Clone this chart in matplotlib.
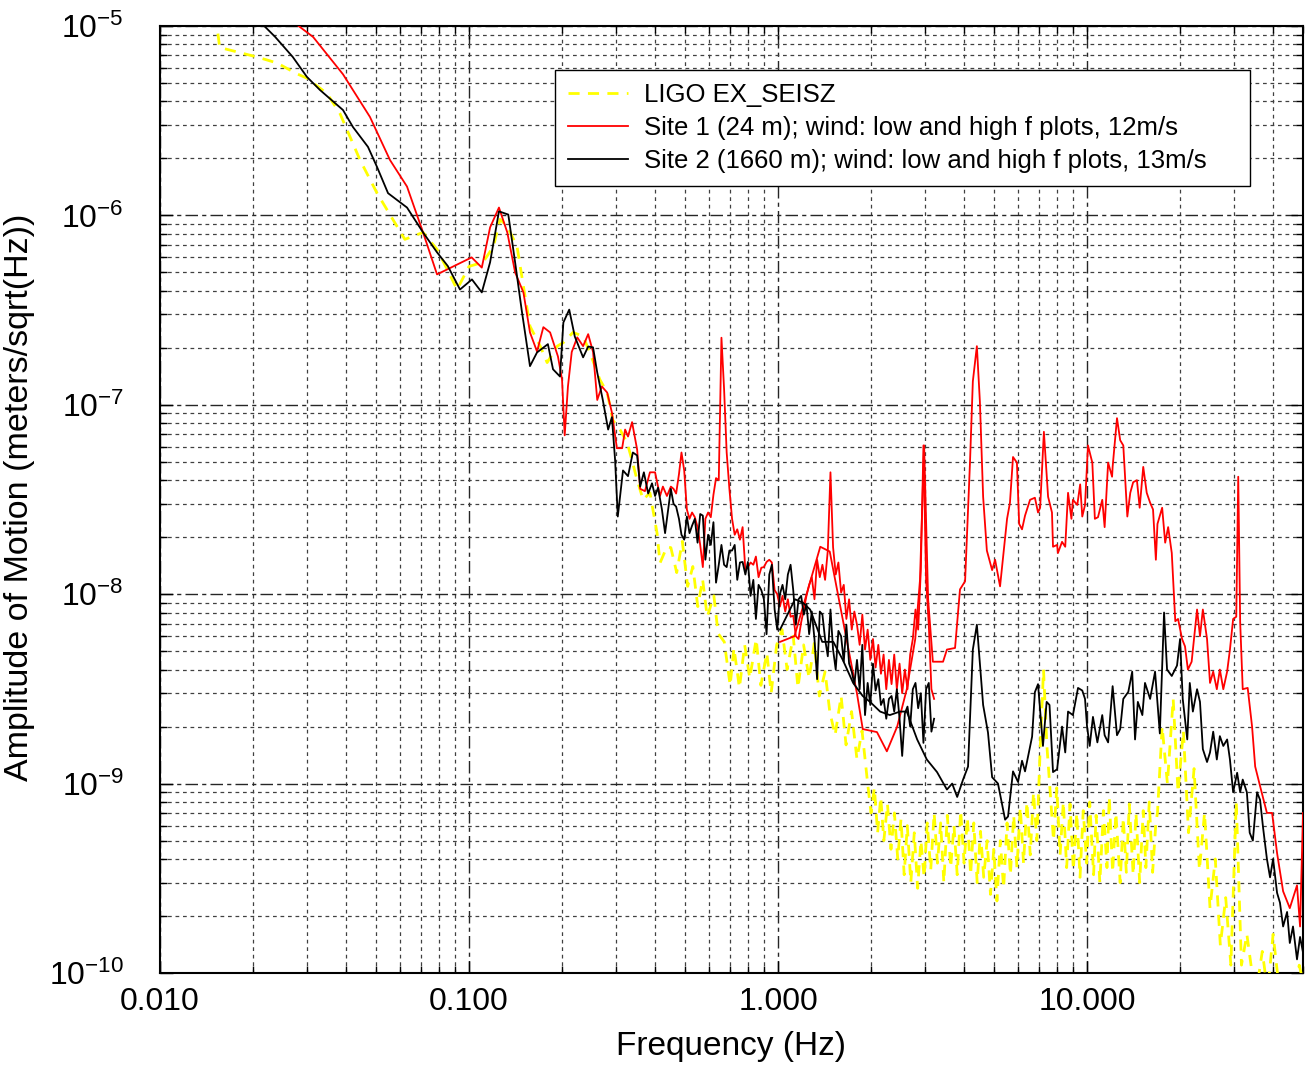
import matplotlib
matplotlib.use("Agg")
import matplotlib.pyplot as plt
from matplotlib.ticker import FixedLocator, FixedFormatter, LogLocator, NullFormatter

plt.rcParams["font.family"] = ["Liberation Sans", "DejaVu Sans"]
plt.rcParams["mathtext.fontset"] = "custom"
plt.rcParams["mathtext.rm"] = "Liberation Sans"
plt.rcParams["mathtext.it"] = "Liberation Sans:italic"
plt.rcParams["mathtext.bf"] = "Liberation Sans:bold"

NM = 1e-9  # all amplitudes below are in nm/sqrt(Hz)

# shared frequency grids (Hz) for the noisy parts of the spectra
f_coarse = [0.45, 0.47, 0.49, 0.51, 0.53, 0.55, 0.57, 0.59, 0.62, 0.64,
            0.67, 0.70, 0.72, 0.75, 0.78, 0.81, 0.85, 0.88, 0.92, 0.95,
            0.99, 1.03, 1.07, 1.12, 1.16, 1.21, 1.26, 1.31, 1.36, 1.42,
            1.47, 1.53, 1.60, 1.66, 1.73, 1.80, 1.87, 1.95, 2.02, 2.10,
            2.19, 2.28, 2.37, 2.46, 2.56, 2.66, 2.77, 2.88, 3.00, 3.12,
            3.24, 3.37, 3.51, 3.65, 3.79, 3.95, 4.10, 4.27, 4.44, 4.62,
            4.80, 4.99, 5.19, 5.40, 5.62, 5.84, 6.08, 6.32, 6.57, 6.83,
            7.11, 7.39, 7.69, 8.00, 8.32, 8.65, 9.00, 9.36, 9.73, 10.1,
            10.5, 11.0, 11.4, 11.8, 12.3, 12.8, 13.3, 13.9, 14.4, 15.0,
            15.6, 16.2, 16.9, 17.5, 18.2, 19.0, 19.7, 20.5, 21.3, 22.2,
            23.1, 24.0, 25.0, 26.0, 27.0, 28.1, 29.2, 30.4, 31.6, 32.9,
            34.2, 35.5, 36.9, 38.4, 40.0, 41.6, 43.2, 45.0, 46.8, 48.6,
            50.0]

f_fine = [0.450, 0.459, 0.468, 0.478, 0.487, 0.497, 0.507, 0.517, 0.527, 0.538,
          0.549, 0.560, 0.571, 0.582, 0.594, 0.606, 0.618, 0.630, 0.643, 0.656,
          0.669, 0.682, 0.696, 0.710, 0.724, 0.738, 0.753, 0.768, 0.784, 0.799,
          0.815, 0.832, 0.848, 0.865, 0.883, 0.900, 0.918, 0.937, 0.955, 0.975,
          0.994, 1.014, 1.034, 1.055, 1.076, 1.098, 1.120, 1.142, 1.165, 1.188,
          1.212, 1.236, 1.261, 1.286, 1.312, 1.338, 1.365, 1.392, 1.420, 1.449,
          1.478, 1.507, 1.537, 1.568, 1.600, 1.632, 1.664, 1.698, 1.732, 1.766,
          1.801, 1.837, 1.874, 1.912, 1.950, 1.989, 2.029, 2.069, 2.111, 2.153,
          2.196, 2.240, 2.285, 2.330, 2.377, 2.424, 2.473, 2.522, 2.573, 2.624,
          2.677, 2.730, 2.785, 2.841, 2.898, 2.955, 3.014, 3.075, 3.136, 3.199]

# LIGO EX_SEISZ
ligo_f_low = [0.0150, 0.0153, 0.0156, 0.0206, 0.0239, 0.0277, 0.0299, 0.0347, 0.0382, 0.0412,
              0.0444, 0.0504, 0.0567, 0.062, 0.071, 0.0788, 0.085, 0.0915, 0.100, 0.111,
              0.120, 0.126, 0.133, 0.143, 0.150, 0.1575, 0.170, 0.179, 0.193, 0.202,
              0.217, 0.234, 0.246, 0.265, 0.280, 0.292, 0.308, 0.325, 0.339, 0.350,
              0.366, 0.385, 0.406, 0.415, 0.437]
ligo_a_low = [11500, 9900, 7700, 6860, 6380, 5600, 5300, 4400, 3460, 2600,
              1960, 1310, 953, 747, 813, 661, 519, 406, 538, 565,
              686, 953, 875, 686, 422, 260, 204, 167, 204, 213,
              241, 230, 189, 136, 116, 83, 74, 63, 49, 40,
              31.5, 34.3, 21, 14.6, 17.8]
# 0.45 - 1.87 Hz on f_coarse[:37]
ligo_a_mid1 = [17.6, 13, 19, 11, 14, 8.6, 12, 7.6, 9.8, 6.2,
               5.6, 3.3, 5.2, 3.2, 5.4, 3.6, 5.8, 3.3, 4.9, 3.0,
               5.4, 6.5, 4.0, 6.0, 3.2, 5.4, 3.6, 5.5, 2.9, 3.9,
               2.4, 1.8, 2.9, 1.6, 2.4, 1.35, 1.9]
ligo_f_mid2 = [1.95, 2.00, 2.05, 2.10, 2.15, 2.20, 2.26, 2.32, 2.38, 2.44,
               2.50, 2.56, 2.62, 2.69, 2.76, 2.83, 2.90, 2.97, 3.04, 3.12,
               3.20, 3.28, 3.36, 3.44, 3.53, 3.62, 3.71, 3.80, 3.90, 4.00,
               4.10, 4.20, 4.30, 4.41, 4.52, 4.63, 4.75, 4.87, 4.99, 5.11,
               5.24, 5.37, 5.51, 5.65, 5.79, 5.93, 6.08, 6.23, 6.39, 6.55,
               6.71, 6.88, 7.05, 7.23, 7.41, 7.60, 7.79, 7.98, 8.18, 8.38,
               8.59, 8.81, 9.03, 9.26, 9.49, 9.72, 9.97, 10.2, 10.5, 10.7,
               11.0, 11.3, 11.6, 11.8, 12.1, 12.4, 12.8, 13.1, 13.4, 13.7,
               14.1, 14.4, 14.8, 15.2, 15.5, 15.9, 16.3, 16.7]
ligo_a_mid2 = [1.0, 0.7, 0.95, 0.55, 0.85, 0.5, 0.78, 0.45, 0.7, 0.4,
               0.65, 0.33, 0.6, 0.3, 0.55, 0.28, 0.5, 0.32, 0.62, 0.35,
               0.7, 0.38, 0.62, 0.3, 0.68, 0.36, 0.6, 0.33, 0.72, 0.38,
               0.66, 0.33, 0.62, 0.3, 0.56, 0.32, 0.5, 0.26, 0.45, 0.24,
               0.5, 0.28, 0.62, 0.33, 0.68, 0.36, 0.75, 0.38, 0.8, 0.42,
               0.9, 0.5, 1.5, 4.0, 1.6, 0.9, 0.5, 0.95, 0.42, 0.8,
               0.36, 0.78, 0.35, 0.7, 0.32, 0.72, 0.38, 0.8, 0.33, 0.68,
               0.3, 0.72, 0.36, 0.85, 0.34, 0.7, 0.3, 0.66, 0.34, 0.78,
               0.33, 0.7, 0.3, 0.72, 0.36, 0.8, 0.34, 0.62]
# 16.9 - 50 Hz on f_coarse[92:]
ligo_a_high = [0.7, 2.0, 1.0, 2.8, 0.9, 1.9, 0.55, 1.2,
               0.35, 0.7, 0.22, 0.4, 0.14, 0.25, 0.11, 0.8, 0.11, 0.16,
               0.1, 0.085, 0.13, 0.08, 0.16, 0.09, 0.075, 0.097, 0.08, 0.11,
               0.09]

# Site 1 (24 m), low f plot
site1_lo_f_sparse = [0.026, 0.0313, 0.0391, 0.0478, 0.0555, 0.063, 0.071, 0.0788, 0.102, 0.110,
                     0.117, 0.125, 0.133, 0.141, 0.150, 0.1575, 0.166, 0.174, 0.183, 0.194,
                     0.200, 0.204, 0.209, 0.215, 0.224, 0.234, 0.243, 0.252, 0.260, 0.269,
                     0.280, 0.290, 0.301, 0.313, 0.320, 0.327, 0.337, 0.350, 0.358, 0.371,
                     0.385, 0.400, 0.415, 0.424, 0.437]
site1_lo_a_sparse = [11000, 8750, 5560, 3310, 1960, 1420, 813, 488, 600, 530,
                     864, 1100, 813, 500, 392, 241, 191, 257, 241, 180,
                     136, 69, 125, 190, 227, 204, 236, 190, 106, 125,
                     116, 91, 59, 59, 74, 68, 81, 58, 36, 35,
                     44, 44, 33, 37, 33]
site1_lo_a_fine = [37, 36, 34, 43, 56, 45, 28, 25, 27, 25.5,
                   22.6, 18.2, 13.9, 25, 27, 25.5, 33.5, 41, 40, 226,
                   121, 56, 36, 25, 20.6, 22, 19.4, 22.6, 13.4, 13.9,
                   14.7, 14.3, 15.8, 12.3, 13.8, 13.9, 14.8, 15.2, 14.7, 10.5,
                   10, 8.6, 9.8, 8.1, 9.4, 7.6, 7.7, 6.0, 5.8, 7.1,
                   8.3, 9.8, 11.2, 12.3, 9.4, 15.2, 12.3, 14.3, 11.9, 17,
                   44, 17.7, 12.7, 14.7, 10.2, 11.2, 7.4, 9.4, 6.5, 8.1,
                   6.9, 5.4, 7.8, 5.1, 6.5, 4.5, 5.8, 4.1, 5.4, 3.8,
                   4.8, 3.15, 4.5, 3.35, 4.8, 3.15, 4.3, 3.0, 4.0, 3.15,
                   4.8, 5.8, 8.3, 6.5, 13.4, 61, 11.9, 6.9, 3.15, 2.8]

# Site 1 (24 m), high f plot
site1_hi_f = [1.015, 1.13, 1.37, 1.47, 1.80, 1.88, 2.09, 2.25, 2.43, 2.61,
              2.78, 2.88, 2.97, 3.06, 3.17, 3.42, 3.52, 3.74, 3.88, 4.03,
              4.18, 4.27, 4.40, 4.50, 4.61, 4.74, 4.93, 5.04, 5.23, 5.51,
              5.63, 5.76, 5.93, 6.03, 6.16, 6.30, 6.54, 6.78, 6.94, 7.05,
              7.25, 7.48, 7.70, 7.76, 8.00, 8.05, 8.30, 8.50, 8.68, 8.90,
              9.00, 9.30, 9.50, 9.65, 9.85, 10.07, 10.4, 10.6, 10.85, 11.2,
              11.4, 11.7, 12.05, 12.1, 12.5, 12.8, 13.1, 13.5, 13.8, 14.1,
              14.5, 14.8, 15.2, 15.6, 16.0, 16.35, 16.7, 16.9, 17.5, 17.9,
              18.3, 18.8, 19.3, 19.7, 20.3, 20.75, 21.2, 21.8, 22.7, 23.2,
              23.7, 24.45, 25.0, 25.6, 26.3, 26.9, 27.6, 28.4, 29.0, 29.7,
              30.4, 30.85, 31.3, 31.9, 33.1, 34.2, 35.0, 36.3, 38.2, 39.7,
              41.2, 43.1, 45.3, 47.8, 48.9, 50.0]
site1_hi_a = [5.6, 6.0, 17.8, 16.8, 3.0, 1.94, 1.87, 1.48, 2.0, 3.15,
              5.8, 11.9, 61, 9.4, 4.4, 4.4, 5.1, 5.2, 10.6, 11.7,
              49.5, 133, 204, 104, 32.7, 17, 13.4, 15.2, 11, 25,
              30.4, 53, 49.5, 23.5, 22, 26, 31.5, 32.3, 27, 28.6,
              72, 32.7, 27, 17.8, 18.2, 16.5, 18.9, 17.8, 34.3, 25,
              31.5, 29.6, 38, 25.7, 29.6, 61, 49.5, 25, 25.5, 31.5,
              22.6, 49.5, 41.7, 47, 85, 65, 61, 25.7, 34.3, 39,
              40, 28.6, 47, 34.3, 30.4, 28, 15.2, 23.5, 28.6, 18.7,
              22.6, 16.5, 7.2, 7.4, 5.8, 5.3, 4.0, 4.4, 8.3, 6.0,
              8.3, 5.8, 3.4, 3.9, 3.15, 4.0, 3.15, 3.9, 5.1, 7.4,
              7.6, 41.7, 7.1, 3.15, 3.2, 2.0, 1.23, 0.97, 0.70, 0.70,
              0.43, 0.27, 0.22, 0.29, 0.176, 0.70]

# Site 2 (1660 m), low f plot
site2_lo_f_sparse = [0.0208, 0.0236, 0.0269, 0.0299, 0.0329, 0.0391, 0.0421, 0.0471, 0.0504, 0.0547,
                     0.0630, 0.0710, 0.0788, 0.0854, 0.0935, 0.1022, 0.110, 0.117, 0.125, 0.134,
                     0.141, 0.148, 0.1575, 0.166, 0.180, 0.187, 0.197, 0.202, 0.211, 0.220,
                     0.234, 0.243, 0.252, 0.260, 0.271, 0.282, 0.290, 0.297, 0.303, 0.315,
                     0.327, 0.339, 0.350, 0.358, 0.368, 0.380, 0.391, 0.400, 0.409, 0.421,
                     0.431]
site2_lo_a_sparse = [10750, 8750, 6860, 5380, 4600, 3600, 2930, 2300, 1800, 1310,
                     1100, 813, 638, 540, 406, 459, 392, 565, 1050, 1010,
                     565, 318, 160, 189, 209, 154, 141, 272, 318, 229,
                     178, 203, 201, 148, 106, 74, 86, 51, 25.7, 45,
                     42, 56, 54, 37, 44, 34, 38.5, 33, 36.5, 28,
                     21]
site2_lo_a_fine = [36, 30, 29, 25, 20.6, 19.4, 25.7, 21, 23, 25,
                   18.7, 26.5, 26, 15.2, 20.6, 18.2, 24, 11.5, 14.3, 18.2,
                   14.3, 13.9, 17, 17, 18.2, 11.9, 14.7, 14.8, 12.7, 14.8,
                   9.8, 11.9, 7.4, 11.2, 10.5, 9.4, 6.15, 12.7, 14.3, 8.3,
                   6.5, 10, 11.2, 9.4, 12.7, 14.3, 10.5, 6.9, 9.4, 9.8,
                   7.8, 8.85, 6.15, 8.1, 5.8, 3.56, 8.1, 7.8, 5.8, 4.7,
                   8.3, 5.1, 4.0, 6.4, 6.0, 4.4, 6.9, 4.3, 3.9, 3.35,
                   4.5, 3.15, 5.4, 2.3, 3.4, 2.6, 4.3, 3.1, 3.56, 2.6,
                   2.8, 2.2, 2.8, 2.9, 2.4, 3.15, 2.2, 1.4, 2.35, 2.55,
                   2.0, 3.15, 3.4, 2.5, 3.0, 1.64, 3.15, 3.4, 1.88, 2.2]

# Site 2 (1660 m), high f plot
site2_hi_f = [1.015, 1.135, 1.205, 1.27, 1.39, 1.51, 1.62, 1.75, 1.88, 1.985,
              2.14, 2.30, 2.48, 2.61, 2.82, 3.03, 3.27, 3.52, 3.66, 3.80,
              3.97, 4.12, 4.27, 4.40, 4.61, 4.78, 4.93, 5.15, 5.43, 5.55,
              5.76, 5.98, 6.16, 6.30, 6.64, 6.78, 6.94, 7.20, 7.40, 7.56,
              7.76, 8.0, 8.3, 8.5, 8.68, 9.0, 9.35, 9.65, 9.85, 10.0,
              10.2, 10.45, 10.8, 11.2, 11.4, 11.7, 12.1, 12.5, 12.8, 13.1,
              13.6, 14.0, 14.3, 14.6, 15.1, 15.4, 16.0, 16.6, 17.2, 17.75,
              18.15, 18.8, 19.55, 20.0, 20.4, 21.1, 21.5, 22.0, 22.7, 23.2,
              23.7, 24.45, 25.0, 25.6, 26.3, 26.9, 27.6, 28.4, 29.0, 29.7,
              30.6, 31.3, 31.9, 32.9, 33.6, 34.4, 35.5, 36.3, 37.1, 38.2,
              39.1, 40.0, 41.2, 42.1, 43.1, 44.4, 45.3, 46.4, 47.8, 48.9,
              50.0]
site2_hi_a = [6.5, 9.4, 9.0, 8.3, 5.6, 5.6, 4.5, 3.4, 2.9, 2.7,
              2.4, 2.3, 2.4, 2.4, 1.71, 1.34, 1.15, 0.93, 1.0, 0.85,
              1.05, 1.23, 5.1, 6.9, 2.6, 1.86, 1.08, 1.0, 0.645, 0.67,
              1.16, 1.02, 1.32, 1.16, 1.77, 3.04, 3.35, 1.58, 2.7, 2.6,
              1.15, 1.19, 2.0, 1.46, 2.4, 2.3, 3.2, 3.1, 2.8, 2.0,
              1.58, 2.25, 1.65, 2.3, 1.8, 1.65, 3.27, 1.8, 1.94, 2.8,
              3.05, 3.9, 1.71, 2.7, 2.3, 3.4, 2.8, 3.9, 1.84, 8.0,
              4.0, 3.7, 4.2, 5.8, 2.8, 1.71, 3.4, 2.4, 3.15, 2.7,
              1.52, 1.3, 1.46, 1.88, 1.34, 1.78, 1.58, 1.71, 1.34, 0.9,
              1.14, 0.9, 1.05, 0.9, 0.55, 0.5, 0.9, 0.82, 0.59, 0.4,
              0.32, 0.4, 0.265, 0.235, 0.176, 0.21, 0.144, 0.176, 0.118, 0.155,
              0.128]

x_ticks = [0.01, 0.1, 1, 10]
x_labels = ["0.010", "0.100", "1.000", "10.000"]
y_ticks = [1e-10, 1e-9, 1e-8, 1e-7, 1e-6, 1e-5]
y_labels = [r"$10^{-10}$", r"$10^{-9}$", r"$10^{-8}$", r"$10^{-7}$", r"$10^{-6}$", r"$10^{-5}$"]

labels = ["LIGO EX_SEISZ",
          "Site 1 (24 m); wind: low and high f plots, 12m/s",
          "Site 2 (1660 m); wind: low and high f plots, 13m/s"]


def to_m(values):
    return [v * NM for v in values]


ligo_f = ligo_f_low + f_coarse[:37] + ligo_f_mid2 + f_coarse[92:]
ligo_a = ligo_a_low + ligo_a_mid1 + ligo_a_mid2 + ligo_a_high
site1_lo_f = site1_lo_f_sparse + f_fine
site1_lo_a = site1_lo_a_sparse + site1_lo_a_fine
site2_lo_f = site2_lo_f_sparse + f_fine
site2_lo_a = site2_lo_a_sparse + site2_lo_a_fine

fig = plt.figure(figsize=(13.05, 10.65), dpi=100)
ax = fig.add_axes([0.1226, 0.0864, 0.8759, 0.8892])

ax.plot(ligo_f, to_m(ligo_a), color="#ffff00", lw=2.0, dashes=(4, 3), label=labels[0], zorder=3)
ax.plot(site1_lo_f, to_m(site1_lo_a), color="#ff0000", lw=1.3, label=labels[1], zorder=4)
ax.plot(site1_hi_f, to_m(site1_hi_a), color="#ff0000", lw=1.3, zorder=4)
ax.plot(site2_lo_f, to_m(site2_lo_a), color="black", lw=1.3, label=labels[2], zorder=5)
ax.plot(site2_hi_f, to_m(site2_hi_a), color="black", lw=1.3, zorder=5)

ax.set_xscale("log")
ax.set_yscale("log")
ax.set_xlim(0.01, 50)
ax.set_ylim(1e-10, 1e-5)

ax.xaxis.set_major_locator(FixedLocator(x_ticks))
ax.xaxis.set_major_formatter(FixedFormatter(x_labels))
ax.xaxis.set_minor_locator(LogLocator(base=10, subs=range(2, 10), numticks=20))
ax.xaxis.set_minor_formatter(NullFormatter())
ax.yaxis.set_major_locator(FixedLocator(y_ticks))
ax.yaxis.set_major_formatter(FixedFormatter(y_labels))
ax.yaxis.set_minor_locator(LogLocator(base=10, subs=range(2, 10), numticks=20))
ax.yaxis.set_minor_formatter(NullFormatter())

ax.grid(which="major", color="0.15", lw=1.0, linestyle=(0, (9, 3, 3, 3)))
ax.grid(which="minor", color="0.25", lw=0.9, linestyle=(0, (3, 3)))
ax.set_axisbelow(True)

ax.tick_params(which="both", direction="in", top=True, right=True, width=1.0)
ax.tick_params(which="major", length=9, labelsize=23)
ax.tick_params(which="minor", length=5)
ax.tick_params(axis="x", which="major", pad=10)
ax.tick_params(axis="y", which="major", pad=26)
for side in ax.spines.values():
    side.set_linewidth(1.5)

fig.text(0.560, 0.017, "Frequency (Hz)", ha="center", va="center", fontsize=24)
fig.text(0.0153, 0.533, "Amplitude of Motion (meters/sqrt(Hz))", ha="center", va="center",
         rotation=90, fontsize=24.5)

leg = ax.legend(loc="upper left", bbox_to_anchor=(0.3456, 0.80, 0.608, 0.1535), mode="expand",
                borderaxespad=0, fontsize=18.5, handlelength=2.35, handletextpad=0.6,
                labelspacing=0.35, borderpad=0.5, fancybox=False, framealpha=1,
                edgecolor="black")
leg.get_frame().set_linewidth(1.0)

fig.savefig("out.png", dpi=100)
